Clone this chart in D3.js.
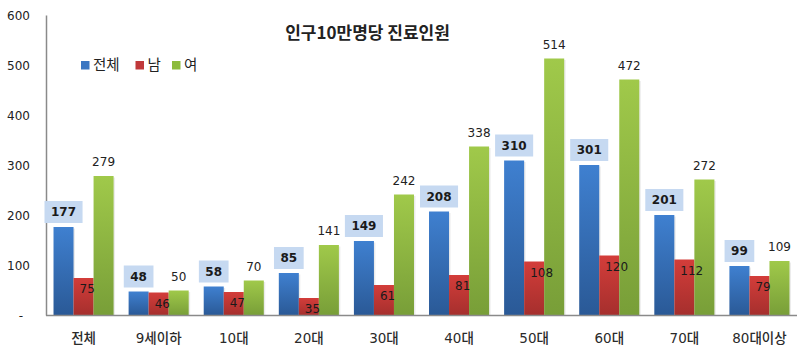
<!DOCTYPE html>
<html><head><meta charset="utf-8">
<script src="https://cdn.jsdelivr.net/npm/d3@7"></script>
<style>body{margin:0;background:#fff}svg{display:block}</style>
</head><body>
<svg id="c" width="802" height="358"></svg>
<script>
const categories = ["전체","9세이하","10대","20대","30대","40대","50대","60대","70대","80대이상"];
const seriesNames = ["전체","남","여"];
const totalVals = [177,48,58,85,149,208,310,301,201,99];
const maleVals = [75,46,47,35,61,81,108,120,112,79];
const femaleVals = [279,50,70,141,242,338,514,472,272,109];
const yTicks = [0,100,200,300,400,500,600];
const title = "인구10만명당 진료인원";

const svg = d3.select("#c");
const numFont = "'DejaVu Sans', Verdana, sans-serif";
const korFont = "'DejaVu Sans', 'Noto Sans CJK KR', sans-serif";

const x = d3.scaleBand().domain(categories).range([46, 797]).paddingInner(0.2).paddingOuter(0.1);
const xs = d3.scaleBand().domain(seriesNames).range([0, x.bandwidth()]).padding(0);
const y = d3.scaleLinear().domain([0, 600]).range([315.5, 15.5]);

const defs = svg.append("defs");
const grads = [
  ["gBlue", "#3f80d0", "#2a5996"],
  ["gRed", "#d33d3a", "#a52f2d"],
  ["gGreen", "#a0c94a", "#789e38"]
];
grads.forEach(([id, c1, c2]) => {
  const g = defs.append("linearGradient").attr("id", id).attr("x1", 0).attr("y1", 0).attr("x2", 0).attr("y2", 1);
  g.append("stop").attr("offset", "0%").attr("stop-color", c1);
  g.append("stop").attr("offset", "100%").attr("stop-color", c2);
});
const fills = {"전체": "url(#gBlue)", "남": "url(#gRed)", "여": "url(#gGreen)"};
const legendColors = {"전체": "#3a76c2", "남": "#c0383a", "여": "#8cbb3c"};

// y axis
const yAxis = d3.axisLeft(y).tickValues(yTicks).tickSize(0).tickFormat(d => d === 0 ? "-" : d);
const ya = svg.append("g").attr("transform", "translate(30,0)").call(yAxis);
ya.select(".domain").remove();
ya.selectAll("text").attr("font-family", numFont).attr("font-size", 12).attr("fill", "#222")
  .attr("x", 0).attr("dx", d => d === 0 ? -7 : 0);
svg.append("line").attr("x1", 46.5).attr("x2", 46.5).attr("y1", y(600)).attr("y2", y(0))
  .attr("stroke", "#8a8a8a").attr("stroke-width", 1.5);

const data = categories.map((c, i) => ({cat: c, vals: [
  {s: "전체", v: totalVals[i]}, {s: "남", v: maleVals[i]}, {s: "여", v: femaleVals[i]}]}));

const groups = svg.append("g").selectAll("g").data(data).join("g")
  .attr("transform", d => `translate(${x(d.cat)},0)`);

// shadows
groups.selectAll("rect.sh").data(d => d.vals).join("rect").attr("class", "sh")
  .attr("x", d => xs(d.s) + 1.5).attr("y", d => y(d.v) + 1.5)
  .attr("width", xs.bandwidth()).attr("height", d => y(0) - y(d.v) - 1.5)
  .attr("fill", "#000").attr("opacity", 0.08);
groups.selectAll("rect.bar").data(d => d.vals).join("rect").attr("class", "bar")
  .attr("x", d => xs(d.s)).attr("y", d => y(d.v))
  .attr("width", xs.bandwidth()).attr("height", d => y(0) - y(d.v))
  .attr("fill", d => fills[d.s]);

// baseline
svg.append("line").attr("x1", 46).attr("x2", 797).attr("y1", y(0)).attr("y2", y(0))
  .attr("stroke", "#8a8a8a").attr("stroke-width", 1.5);

// labels
groups.each(function(d) {
  const g = d3.select(this);
  const t = d.vals[0];
  const cx = xs("전체") + xs.bandwidth() / 2;
  const boxBottom = y(t.v) - 4;
  const box = g.append("rect").attr("fill", "#c6d9f1");
  const txt = g.append("text").attr("x", cx).attr("y", boxBottom - 11).attr("dy", "0.36em")
    .attr("text-anchor", "middle").attr("font-family", numFont).attr("font-size", 12)
    .attr("font-weight", "bold").attr("fill", "#1a1a1a").text(t.v);
  const w = txt.node().getComputedTextLength() + 13;
  box.attr("x", cx - w / 2).attr("y", boxBottom - 22).attr("width", w).attr("height", 22);

  const m = d.vals[1];
  g.append("text").attr("x", xs("남") + 6).attr("y", y(m.v) + 11).attr("dy", "0.36em")
    .attr("font-family", numFont).attr("font-size", 12).attr("fill", "#1a1a1a").text(m.v);

  const f = d.vals[2];
  g.append("text").attr("x", xs("여") + xs.bandwidth() / 2).attr("y", y(f.v) - 14).attr("dy", "0.36em")
    .attr("text-anchor", "middle").attr("font-family", numFont).attr("font-size", 12)
    .attr("fill", "#222").text(f.v);
});

// x axis labels
const xAxis = d3.axisBottom(x).tickSize(0);
const xa = svg.append("g").attr("transform", `translate(0,${y(0)})`).call(xAxis);
xa.select(".domain").remove();
xa.selectAll("text").attr("font-family", korFont).attr("font-size", 13.5).attr("font-weight", 500)
  .attr("fill", "#2a2a2a").attr("y", 23).attr("dy", "0.36em");

// title
svg.append("text").attr("x", 367.5).attr("y", 33).attr("dy", "0.36em").attr("text-anchor", "middle")
  .attr("font-family", "'Noto Sans CJK KR', sans-serif").attr("font-size", 17).attr("font-weight", "bold")
  .attr("fill", "#222").text(title);

// legend
const legX = [81, 135.5, 172];
const lg = svg.append("g");
seriesNames.forEach((s, i) => {
  lg.append("rect").attr("x", legX[i]).attr("y", 61).attr("width", 8.5).attr("height", 8.5).attr("fill", legendColors[s]);
  lg.append("text").attr("x", legX[i] + 12).attr("y", 65).attr("dy", "0.36em")
    .attr("font-family", "'Noto Sans CJK KR', sans-serif").attr("font-size", 14.5).attr("fill", "#222").text(s);
});
</script>
</body></html>
